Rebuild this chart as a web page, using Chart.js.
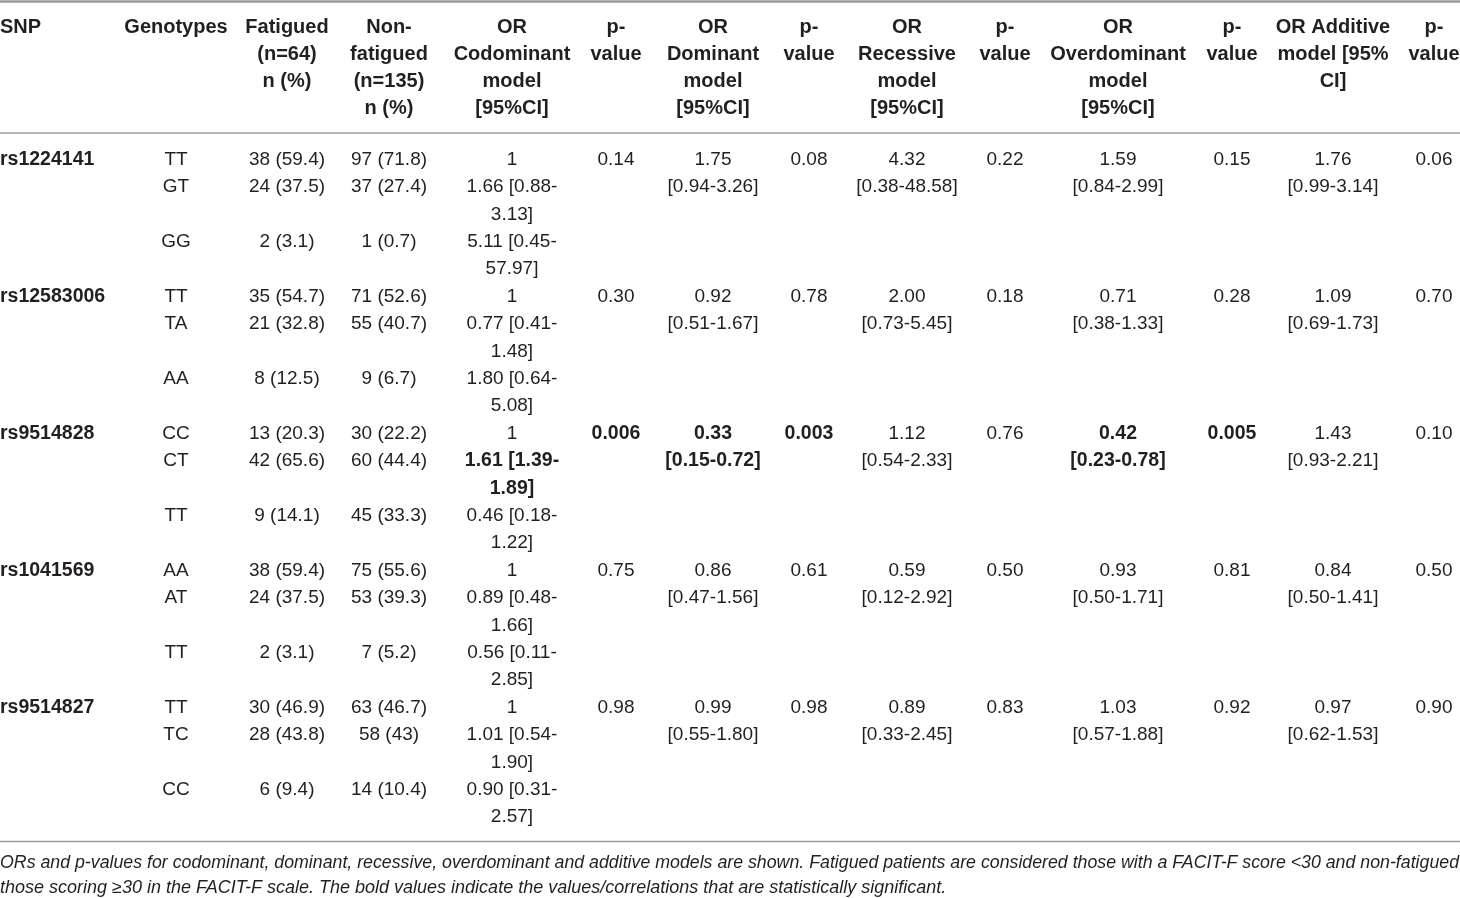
<!DOCTYPE html>
<html>
<head>
<meta charset="utf-8">
<script src="https://cdn.jsdelivr.net/npm/chart.js@4.4.1/dist/chart.umd.min.js"></script>
<style>
  html, body { margin: 0; padding: 0; background: #fff; }
  canvas { display: block; }
</style>
</head>
<body>
<canvas id="tableChart" width="1460" height="898"></canvas>
<script>
// Дані таблиці
const snps = ['rs1224141', 'rs12583006', 'rs9514828', 'rs1041569', 'rs9514827'];
const genotypes = [['TT', 'GT', 'GG'], ['TT', 'TA', 'AA'], ['CC', 'CT', 'TT'], ['AA', 'AT', 'TT'], ['TT', 'TC', 'CC']];
const fatigued = [
    ['38 (59.4)', '24 (37.5)', '2 (3.1)'],
    ['35 (54.7)', '21 (32.8)', '8 (12.5)'],
    ['13 (20.3)', '42 (65.6)', '9 (14.1)'],
    ['38 (59.4)', '24 (37.5)', '2 (3.1)'],
    ['30 (46.9)', '28 (43.8)', '6 (9.4)']
];
const nonFatigued = [
    ['97 (71.8)', '37 (27.4)', '1 (0.7)'],
    ['71 (52.6)', '55 (40.7)', '9 (6.7)'],
    ['30 (22.2)', '60 (44.4)', '45 (33.3)'],
    ['75 (55.6)', '53 (39.3)', '7 (5.2)'],
    ['63 (46.7)', '58 (43)', '14 (10.4)']
];
const codominant = [
    ['1', '1.66 [0.88-3.13]', '5.11 [0.45-57.97]'],
    ['1', '0.77 [0.41-1.48]', '1.80 [0.64-5.08]'],
    ['1', '1.61 [1.39-1.89]', '0.46 [0.18-1.22]'],
    ['1', '0.89 [0.48-1.66]', '0.56 [0.11-2.85]'],
    ['1', '1.01 [0.54-1.90]', '0.90 [0.31-2.57]']
];
const pCodominant = ['0.14', '0.30', '0.006', '0.75', '0.98'];
const dominant = ['1.75 [0.94-3.26]', '0.92 [0.51-1.67]', '0.33 [0.15-0.72]', '0.86 [0.47-1.56]', '0.99 [0.55-1.80]'];
const pDominant = ['0.08', '0.78', '0.003', '0.61', '0.98'];
const recessive = ['4.32 [0.38-48.58]', '2.00 [0.73-5.45]', '1.12 [0.54-2.33]', '0.59 [0.12-2.92]', '0.89 [0.33-2.45]'];
const pRecessive = ['0.22', '0.18', '0.76', '0.50', '0.83'];
const overdominant = ['1.59 [0.84-2.99]', '0.71 [0.38-1.33]', '0.42 [0.23-0.78]', '0.93 [0.50-1.71]', '1.03 [0.57-1.88]'];
const pOverdominant = ['0.15', '0.28', '0.005', '0.81', '0.92'];
const additive = ['1.76 [0.99-3.14]', '1.09 [0.69-1.73]', '1.43 [0.93-2.21]', '0.84 [0.50-1.41]', '0.97 [0.62-1.53]'];
const pAdditive = ['0.06', '0.70', '0.10', '0.50', '0.90'];

// Статистично значущі клітинки (виділені жирним)
const significant = [[], [], ['codominant1', 'pCodominant', 'dominant', 'pDominant', 'overdominant', 'pOverdominant'], [], []];

const headers = [
    ['SNP'], ['Genotypes'], ['Fatigued', '(n=64)', 'n (%)'], ['Non-', 'fatigued', '(n=135)', 'n (%)'],
    ['OR', 'Codominant', 'model', '[95%CI]'], ['p-', 'value'],
    ['OR', 'Dominant', 'model', '[95%CI]'], ['p-', 'value'],
    ['OR', 'Recessive', 'model', '[95%CI]'], ['p-', 'value'],
    ['OR', 'Overdominant', 'model', '[95%CI]'], ['p-', 'value'],
    ['OR Additive', 'model [95%', 'CI]'], ['p-', 'value']
];

const footnote = [
    'ORs and p-values for codominant, dominant, recessive, overdominant and additive models are shown. Fatigued patients are considered those with a FACIT-F score <30 and non-fatigued',
    'those scoring \u226530 in the FACIT-F scale. The bold values indicate the values/correlations that are statistically significant.'
];

// Розмітка
const colX = [0, 176, 287, 389, 512, 616, 713, 809, 907, 1005, 1118, 1232, 1333, 1434];
const headerTop = 27, headerStep = 27.3;
const bodyTop = 159.5, lineStep = 27.4;
const TEXT = '#231f20';
const RULE = '#9c9c9c';

// Розбиття значень на рядки
function splitCi(value) {
    const i = value.indexOf(' [');
    return i < 0 ? [value] : [value.slice(0, i), value.slice(i + 1)];
}
function splitCodominant(value) {
    const i = value.indexOf('-');
    return i < 0 ? [value] : [value.slice(0, i + 1), value.slice(i + 1)];
}

function buildCells() {
    const regular = [], bold = [], headerCells = [], notes = [];
    headers.forEach((lines, c) => {
        lines.forEach((t, l) => headerCells.push({ x: colX[c], y: headerTop + headerStep * l, t, left: c === 0 }));
    });
    const put = (list, c, line, lines) => {
        lines.forEach((t, k) => list.push({ x: colX[c], y: bodyTop + lineStep * (line + k), t, left: c === 0 }));
    };
    snps.forEach((snp, s) => {
        const base = s * 5;
        const sig = significant[s];
        const pick = key => sig.includes(key) ? bold : regular;
        put(bold, 0, base, [snp]);
        [0, 1, 3].forEach((line, g) => {
            put(regular, 1, base + line, [genotypes[s][g]]);
            put(regular, 2, base + line, [fatigued[s][g]]);
            put(regular, 3, base + line, [nonFatigued[s][g]]);
            put(pick('codominant' + g), 4, base + line, splitCodominant(codominant[s][g]));
        });
        put(pick('pCodominant'), 5, base, [pCodominant[s]]);
        put(pick('dominant'), 6, base, splitCi(dominant[s]));
        put(pick('pDominant'), 7, base, [pDominant[s]]);
        put(pick('recessive'), 8, base, splitCi(recessive[s]));
        put(pick('pRecessive'), 9, base, [pRecessive[s]]);
        put(pick('overdominant'), 10, base, splitCi(overdominant[s]));
        put(pick('pOverdominant'), 11, base, [pOverdominant[s]]);
        put(pick('additive'), 12, base, splitCi(additive[s]));
        put(pick('pAdditive'), 13, base, [pAdditive[s]]);
    });
    footnote.forEach((t, l) => notes.push({ x: 0, y: 863 + 25 * l, t, left: true, fit: 1459 }));
    return { regular, bold, headerCells, notes };
}

// Плагін для виводу тексту клітинок
const cellText = {
    id: 'cellText',
    afterDatasetsDraw(chart) {
        const ctx = chart.ctx;
        chart.data.datasets.forEach((ds, i) => {
            if (!ds.textFont) return;
            const meta = chart.getDatasetMeta(i);
            ctx.save();
            ctx.font = ds.textFont;
            ctx.fillStyle = TEXT;
            ctx.textBaseline = 'middle';
            meta.data.forEach((el, j) => {
                const cell = ds.data[j];
                ctx.textAlign = cell.left ? 'left' : 'center';
                if (cell.fit) ctx.fillText(cell.t, el.x, el.y, cell.fit);
                else ctx.fillText(cell.t, el.x, el.y);
            });
            ctx.restore();
        });
    }
};

function rule(y, width) {
    return {
        type: 'line',
        data: [{ x: 0, y }, { x: 1460, y }],
        borderColor: RULE,
        borderWidth: width,
        pointRadius: 0
    };
}

function textSet(data, font) {
    return { type: 'scatter', data, textFont: font, pointRadius: 0, pointHoverRadius: 0 };
}

function renderTable() {
    const cells = buildCells();
    const ctx = document.getElementById('tableChart').getContext('2d');
    new Chart(ctx, {
        data: {
            datasets: [
                rule(1.5, 2.5),
                rule(133, 1.5),
                rule(841.5, 1.5),
                textSet(cells.headerCells, 'bold 20px "Liberation Sans", Arial, sans-serif'),
                textSet(cells.regular, '19px "Liberation Sans", Arial, sans-serif'),
                textSet(cells.bold, 'bold 19.5px "Liberation Sans", Arial, sans-serif'),
                textSet(cells.notes, 'italic 18px "Liberation Sans", Arial, sans-serif')
            ]
        },
        options: {
            responsive: false,
            animation: false,
            devicePixelRatio: 1,
            layout: { padding: 0 },
            plugins: { legend: { display: false }, tooltip: { enabled: false } },
            events: [],
            scales: {
                x: { type: 'linear', min: 0, max: 1460, display: false },
                y: { type: 'linear', min: 0, max: 898, reverse: true, display: false }
            }
        },
        plugins: [cellText]
    });
}

renderTable();
</script>
</body>
</html>
